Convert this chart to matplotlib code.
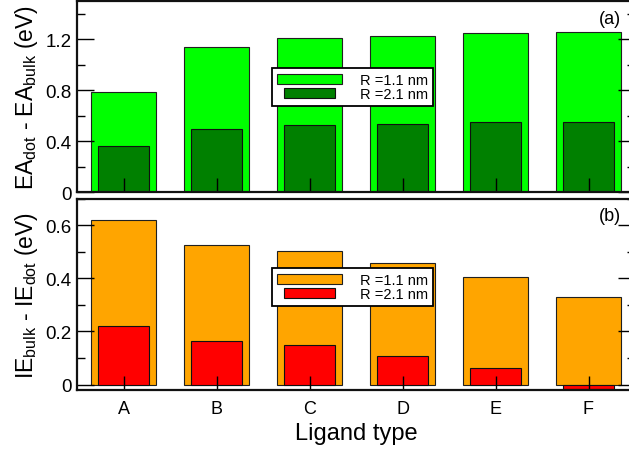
import matplotlib
matplotlib.use("Agg")
import matplotlib.pyplot as plt
from matplotlib.patches import Rectangle
from matplotlib.legend_handler import HandlerPatch
from matplotlib.ticker import MultipleLocator, FuncFormatter

plt.rcParams['font.family'] = ['Liberation Sans', 'DejaVu Sans']
plt.rcParams['mathtext.fontset'] = 'custom'
plt.rcParams['mathtext.rm'] = 'Liberation Sans'
plt.rcParams['mathtext.it'] = 'Liberation Sans:italic'

# ---- data ----
ligands = ['A', 'B', 'C', 'D', 'E', 'F']
ea_r11 = [0.79, 1.14, 1.21, 1.222, 1.25, 1.256]
ea_r21 = [0.36, 0.50, 0.525, 0.532, 0.548, 0.548]
ie_r11 = [0.62, 0.525, 0.503, 0.458, 0.405, 0.33]
ie_r21 = [0.221, 0.165, 0.151, 0.109, 0.061, -0.018]
series_labels = ['R =1.1 nm', 'R =2.1 nm']

W, H = 629, 452
fig = plt.figure(figsize=(W / 100, H / 100), dpi=100)

def px_ax(l, r, t, b):
    return fig.add_axes([l / W, 1 - b / H, (r - l) / W, (b - t) / H])

ax1 = px_ax(77, 635, 2, 193.3)
ax2 = px_ax(77, 635, 199.5, 391)

x = list(range(1, len(ligands) + 1))
wide, narrow = 0.7, 0.55


def handler(frac):
    def f(legend, orig_handle, xdescent, ydescent, width, height, fontsize):
        w = width * frac
        return Rectangle((-xdescent + (width - w) / 2, -ydescent), w, height)
    return HandlerPatch(patch_func=f)


fmt = FuncFormatter(lambda v, p: '0' if abs(v) < 1e-9 else f'{v:.1f}')


def style(ax, ylim, major, minor, ylabel, tag, tag_y, colors, v1, v2, leg_anchor, label_x):
    b1 = ax.bar(x, v1, width=wide, color=colors[0], edgecolor='#202020', linewidth=0.8,
                label=series_labels[0])
    b2 = ax.bar(x, v2, width=narrow, color=colors[1], edgecolor='#101010', linewidth=0.8,
                label=series_labels[1])
    ax.set_xlim(0.5, 6.5)
    ax.set_ylim(*ylim)
    ax.yaxis.set_major_locator(MultipleLocator(major))
    ax.yaxis.set_minor_locator(MultipleLocator(minor))
    ax.yaxis.set_major_formatter(fmt)
    ax.set_xticks(x)
    ax.tick_params(axis='y', which='both', direction='in', left=True, right=True,
                   labelsize=13.5, pad=4, width=1.0)
    ax.tick_params(axis='y', which='major', length=12)
    ax.tick_params(axis='y', which='minor', length=6)
    ax.tick_params(axis='x', direction='in', length=10, width=1.0, labelsize=13, pad=7)
    for s in ax.spines.values():
        s.set_linewidth(1.6)
        s.set_color('#111111')
    ax.set_ylabel(ylabel, fontsize=16.5)
    ax.yaxis.set_label_coords(label_x, 0.5)
    ax.text(0.975, tag_y, tag, transform=ax.transAxes, ha='right', va='top', fontsize=13)
    leg = ax.legend(handles=[b1.patches[0], b2.patches[0]], labels=series_labels,
                    handler_map={b1.patches[0]: handler(1.0), b2.patches[0]: handler(0.785)},
                    loc='upper left', bbox_to_anchor=leg_anchor, borderaxespad=0,
                    fontsize=10.5, handlelength=4.5, handleheight=0.7, handletextpad=1.2,
                    labelspacing=0.0, borderpad=0.35, fancybox=False, framealpha=1,
                    edgecolor='black')
    leg.get_frame().set_linewidth(1.3)
    return ax


style(ax1, (0, 1.5), 0.4, 0.2, r'EA$_{\mathrm{dot}}$ - EA$_{\mathrm{bulk}}$ (eV)', '(a)', 0.955,
      ['#00ff00', '#008000'], ea_r11, ea_r21, (0.349, 0.650), -0.067)
ax1.tick_params(axis='x', labelbottom=False)

style(ax2, (-0.02, 0.70), 0.2, 0.1, r'IE$_{\mathrm{bulk}}$ - IE$_{\mathrm{dot}}$ (eV)', '(b)', 0.955,
      ['#ffa500', '#ff0000'], ie_r11, ie_r21, (0.349, 0.637), -0.067)
ax2.set_xticklabels(ligands)
ax2.set_xlabel('Ligand type', fontsize=17, labelpad=4)

fig.savefig('out.png', dpi=100)
